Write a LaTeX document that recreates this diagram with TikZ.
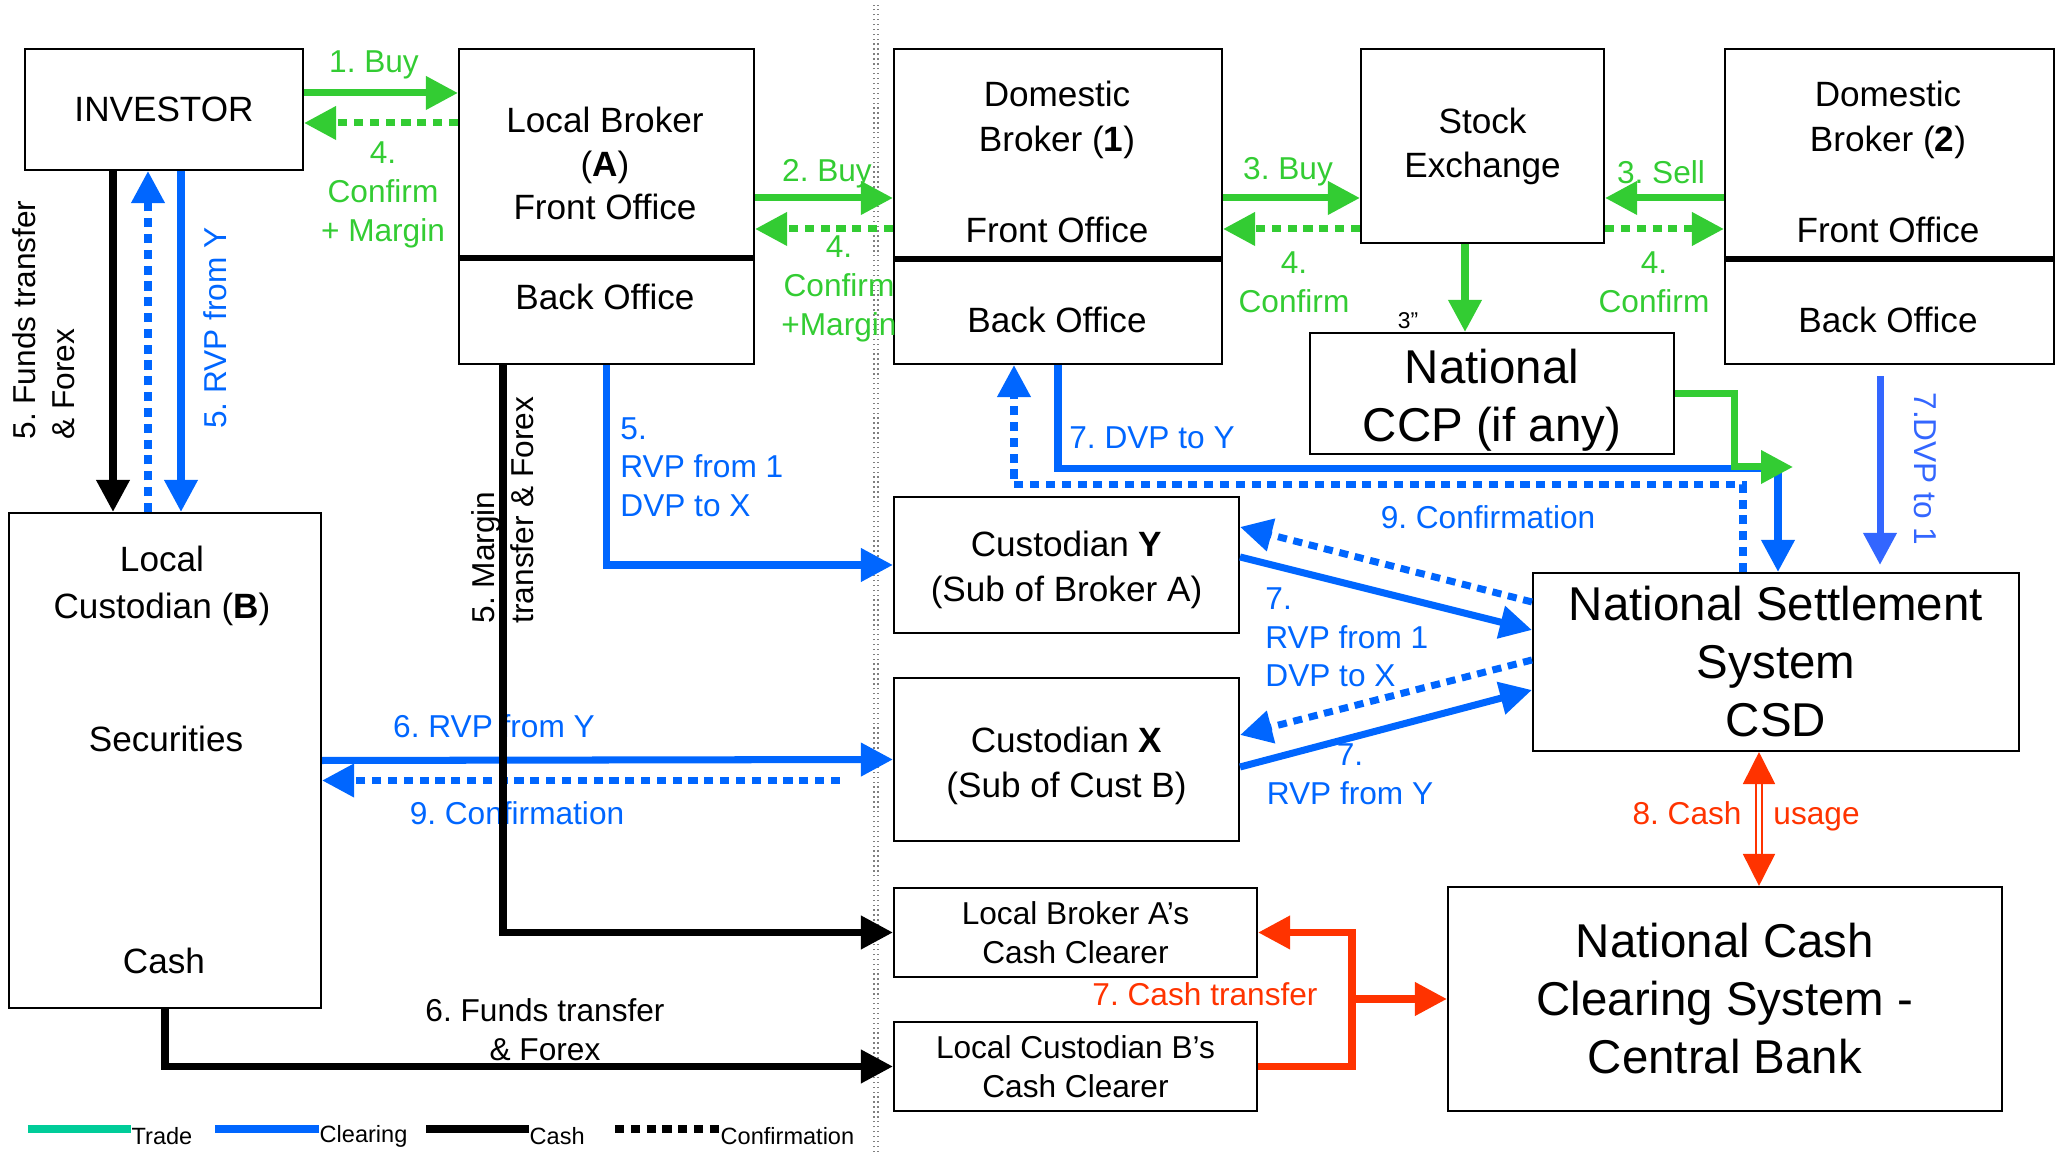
\documentclass[tikz,border=0pt]{standalone}
\usepackage{fontspec}
\setmainfont{Liberation Sans}
\usepackage{tikz}
\usetikzlibrary{positioning,arrows.meta,calc}
\definecolor{tradegreen}{RGB}{51,204,51}
\definecolor{clearblue}{RGB}{0,102,255}
\definecolor{clearblueb}{RGB}{51,102,255}
\definecolor{cashred}{RGB}{255,51,0}
\definecolor{legteal}{RGB}{0,204,153}
\frenchspacing

\begin{document}
\begin{tikzpicture}[
  box/.style={draw, line width=0.6pt, inner sep=0pt, align=center,
              font=\fontsize{10}{12.5}\selectfont},
  bigbox/.style={box, font=\fontsize{13.5}{16.5}\selectfont},
  smallbox/.style={box, font=\fontsize{9}{11}\selectfont},
  txt/.style={align=center, font=\fontsize{10}{12.5}\selectfont},
  lbl/.style={align=center, font=\fontsize{9}{11}\selectfont},
  flow/.style={line width=2pt, -{Triangle[length=3.2mm, width=3.2mm]}},
  trade/.style={flow, tradegreen},
  clear/.style={flow, clearblue},
  cashln/.style={flow, black},
  conf/.style={dash pattern=on 2.6pt off 1.9pt},
  divider/.style={line width=1.6pt},
  leg/.style={font=\fontsize{6.7}{8}\selectfont, anchor=west, inner sep=0pt}
]
  \useasboundingbox (0,0) rectangle (20.63,11.52);

  % separator (local | domestic)
  \draw[gray, densely dotted, line width=0.4pt, double, double distance=0.8pt]
    (8.76,0) -- (8.76,11.47);

  % Investor and local side
  \node[box, minimum width=2.78cm, minimum height=1.21cm] (inv) at (1.64,10.425) {INVESTOR};

  \node[box, minimum width=2.95cm, minimum height=3.15cm] (lba) at (6.065,9.455) {};
  \draw[divider] ([yshift=-5.15mm]lba.west) -- ([yshift=-5.15mm]lba.east);
  \node[txt] (lbafront) at (6.05,9.885) {Local Broker\\(\textbf{A})\\Front Office};
  \node[txt] (lbaback) at (6.05,8.55) {Back Office};

  \node[box, minimum width=3.12cm, minimum height=4.95cm] (lcb) at (1.65,3.915) {};
  \node[txt, font=\fontsize{10}{13.5}\selectfont] (lcbname) at (1.62,5.66) {Local\\Custodian (\textbf{B})};
  \node[txt] (lcbsec) at (1.66,4.13) {Securities};
  \node[txt] (lcbcash) at (1.64,1.91) {Cash};

  % Domestic side
  \node[box, minimum width=3.28cm, minimum height=3.15cm] (db1) at (10.58,9.455) {};
  \draw[divider] ([yshift=-5.25mm]db1.west) -- ([yshift=-5.25mm]db1.east);
  \node[txt, font=\fontsize{10}{13}\selectfont] (db1name) at (10.57,10.32) {Domestic\\Broker (\textbf{1})};
  \node[txt] (db1front) at (10.57,9.22) {Front Office};
  \node[txt] (db1back) at (10.57,8.32) {Back Office};

  \node[box, minimum width=2.43cm, minimum height=1.94cm] (se) at (14.825,10.06) {Stock\\Exchange};

  \node[box, minimum width=3.29cm, minimum height=3.15cm] (db2) at (18.895,9.455) {};
  \draw[divider] ([yshift=-5.25mm]db2.west) -- ([yshift=-5.25mm]db2.east);
  \node[txt, font=\fontsize{10}{13}\selectfont] (db2name) at (18.88,10.32) {Domestic\\Broker (\textbf{2})};
  \node[txt] (db2front) at (18.88,9.22) {Front Office};
  \node[txt] (db2back) at (18.88,8.32) {Back Office};

  \node[box, minimum width=3.64cm, minimum height=1.21cm] (ccp) at (14.92,7.585) {};
  \node[txt, font=\fontsize{13.5}{16.5}\selectfont] (ccptext) at (14.92,7.52) {National\\CCP (if any)};

  \node[box, minimum width=3.45cm, minimum height=1.36cm] (custY) at (10.665,5.87) {};
  \node[txt, font=\fontsize{10}{13}\selectfont] (custYtext) at (10.665,5.82) {Custodian \textbf{Y}\\(Sub of Broker A)};
  \node[box, minimum width=3.45cm, minimum height=1.63cm] (custX) at (10.665,3.925) {};
  \node[txt, font=\fontsize{10}{13}\selectfont] (custXtext) at (10.665,3.86) {Custodian \textbf{X}\\(Sub of Cust B)};
  \node[bigbox, minimum width=4.86cm, minimum height=1.78cm] (nss) at (17.76,4.90) {National Settlement\\System\\CSD};

  \node[smallbox, minimum width=3.63cm, minimum height=0.89cm] (lbacc) at (10.755,2.195) {Local Broker A’s\\Cash Clearer};
  \node[smallbox, minimum width=3.63cm, minimum height=0.89cm] (lcbcc) at (10.755,0.855) {Local Custodian B’s\\Cash Clearer};
  \node[bigbox, minimum width=5.54cm, minimum height=2.24cm] (ncc) at (17.25,1.53) {National Cash\\Clearing System -\\Central Bank};

  % Trade (green)
  \draw[trade] ([yshift=1.65mm]inv.east) -- ([yshift=1.65mm]inv.east -| lba.west);
  \draw[trade, conf] ([yshift=-1.35mm]inv.east -| lba.west) -- ([yshift=-1.35mm]inv.east);
  \node[lbl, text=tradegreen] (buy1) at (3.74,10.87) {1. Buy};
  \node[lbl, text=tradegreen] (conf1) at (3.83,9.57) {4.\\Confirm\\+ Margin};

  \draw[trade] ([yshift=0.85mm]lba.east) -- ([yshift=0.85mm]lba.east -| db1.west);
  \draw[trade, conf] ([yshift=-2.25mm]lba.east -| db1.west) -- ([yshift=-2.25mm]lba.east);
  \node[lbl, text=tradegreen] (buy2) at (8.27,9.78) {2. Buy};
  \node[lbl, text=tradegreen] (conf2) at (8.39,8.63) {4.\\Confirm\\+Margin};

  \draw[trade] ([yshift=0.85mm]db1.east) -- ([yshift=0.85mm]db1.east -| se.west);
  \draw[trade, conf] ([yshift=-2.25mm]db1.east -| se.west) -- ([yshift=-2.25mm]db1.east);
  \node[lbl, text=tradegreen] (buy3) at (12.88,9.80) {3. Buy};
  \node[lbl, text=tradegreen] (conf3) at (12.94,8.70) {4.\\Confirm};

  \draw[trade] ([yshift=0.85mm]db2.west) -- ([yshift=0.85mm]db2.west -| se.east);
  \draw[trade, conf] ([yshift=-2.25mm]db2.west -| se.east) -- ([yshift=-2.25mm]db2.west);
  \node[lbl, text=tradegreen] (sell3) at (16.61,9.80) {3. Sell};
  \node[lbl, text=tradegreen] (conf3b) at (16.54,8.70) {4.\\Confirm};

  \draw[trade] ([xshift=-1.75mm]se.south) -- ([xshift=-1.75mm]se.south |- ccp.north);
  \node[font=\fontsize{6.5}{8}\selectfont] (three) at (14.08,8.31) {3”};

  % Clearing (blue) on the domestic side
  \draw[clear] (db1.south) -- ++(0,-1.03) -| ([xshift=0.2mm]nss.north);
  \node[lbl, text=clearblue] (dvpY) at (11.52,7.14) {7. DVP to Y};
  \draw[clear, conf] ([xshift=-3.3mm]nss.north) -- ++(0,0.87) -| ([xshift=-4.4mm]db1.south);
  \node[lbl, text=clearblue] (conf9a) at (14.88,6.35) {9. Confirmation};

  \coordinate (ccpend) at (17.93,6.85);
  \draw[trade] (ccp.east) -- ++(0.59,0) |- (ccpend);

  \draw[flow, clearblueb, shorten >=0.7mm] ([xshift=-0.95mm,yshift=-1.1mm]db2.south) -- ([xshift=-0.95mm]db2.south |- nss.north);
  \node[lbl, text=clearblueb, rotate=-90] (dvp1) at (19.25,6.83) {7.DVP to 1};

  \draw[clear] ([yshift=0.8mm]custY.east) -- ([yshift=3.2mm]nss.west);
  \draw[clear, conf] ([yshift=6mm]nss.west) -- ([yshift=3.8mm]custY.east);
  \draw[clear, conf] ([yshift=0.2mm]nss.west) -- ([yshift=2.45mm]custX.east);
  \draw[clear] ([yshift=-0.75mm]custX.east) -- ([yshift=-2.8mm]nss.west);
  \node[lbl, text=clearblue, align=left, anchor=west] (rvp7a) at (12.53,5.145) {7.\\RVP from 1\\DVP to X};
  \node[lbl, text=clearblue] (rvp7b) at (13.5,3.775) {7.\\RVP from Y};

  % Cash (red)
  \draw[cashred, line width=0.5pt, double=white, double distance=1.2pt,
        {Triangle[length=3.2mm, width=3.2mm]}-{Triangle[length=3.2mm, width=3.2mm]}]
    ([xshift=-1.7mm]nss.south) -- ([xshift=-1.7mm]nss.south |- ncc.north);
  \node[lbl, text=cashred, anchor=base east] (cash8) at (17.54,3.27) {8. Cash};
  \node[lbl, text=cashred, anchor=base west] (usage8) at (17.61,3.27) {usage};

  \coordinate (cashsplit) at (13.52,1.53);
  \draw[flow, cashred] (lcbcc.east) -| (cashsplit) |- (lbacc.east);
  \draw[flow, cashred] (cashsplit) -- (cashsplit -| ncc.west);
  \node[lbl, text=cashred] (cash7) at (12.05,1.58) {7. Cash transfer};

  % Local side flows
  \node[lbl, rotate=90, align=left] (funds5) at (0.44,8.32) {5. Funds transfer\\\& Forex};
  \node[lbl, rotate=90, text=clearblue] (rvp5) at (2.15,8.24) {5. RVP from Y};
  \draw[cashln] ([xshift=-5.1mm]inv.south) -- ([xshift=-5.1mm]inv.south |- lcb.north);
  \draw[clear, conf] ([xshift=-1.6mm]inv.south |- lcb.north) -- ([xshift=-1.6mm]inv.south);
  \draw[clear] ([xshift=1.7mm]inv.south) -- ([xshift=1.7mm]inv.south |- lcb.north);

  \node[lbl, text=clearblue, align=left, anchor=west] (rvp5b) at (6.08,6.85) {5.\\RVP from 1\\DVP to X};
  \draw[clear] (lba.south) |- (custY.west);

  \node[lbl, text=clearblue] (rvp6) at (4.94,4.26) {6. RVP from Y};
  \node[lbl, text=clearblue] (conf9b) at (5.17,3.39) {9. Confirmation};
  \draw[clear] (lcb.east) -- (custX.west);
  \draw[clear, conf, shorten <=5.3mm] ([yshift=-2.1mm]custX.west) -- ([yshift=-2.1mm]custX.west -| lcb.east);

  \node[lbl, rotate=90, align=left] (margin5) at (5.03,6.42) {5. Margin\\transfer \& Forex};
  \draw[cashln] ([xshift=-10.35mm]lba.south) |- (lbacc.west);

  \node[lbl] (funds6) at (5.45,1.225) {6. Funds transfer\\\& Forex};
  \draw[cashln] (lcb.south) |- (lcbcc.west);

  % Legend
  \node[leg] (legtrade) at (1.31,0.16) {Trade};
  \draw[line width=2pt, legteal] ([xshift=-10.3mm,yshift=0.7mm]legtrade.west) -- ([yshift=0.7mm]legtrade.west);
  \node[leg] (legclear) at (3.19,0.16) {Clearing};
  \draw[line width=2pt, clearblue] ([xshift=-10.4mm,yshift=0.7mm]legclear.west) -- ([yshift=0.7mm]legclear.west);
  \node[leg] (legcash) at (5.29,0.16) {Cash};
  \draw[line width=2pt] ([xshift=-10.3mm,yshift=0.7mm]legcash.west) -- ([yshift=0.7mm]legcash.west);
  \node[leg] (legconf) at (7.20,0.16) {Confirmation};
  \draw[line width=2pt, conf] ([xshift=-10.5mm,yshift=0.7mm]legconf.west) -- ([yshift=0.7mm]legconf.west);
\end{tikzpicture}
\end{document}
